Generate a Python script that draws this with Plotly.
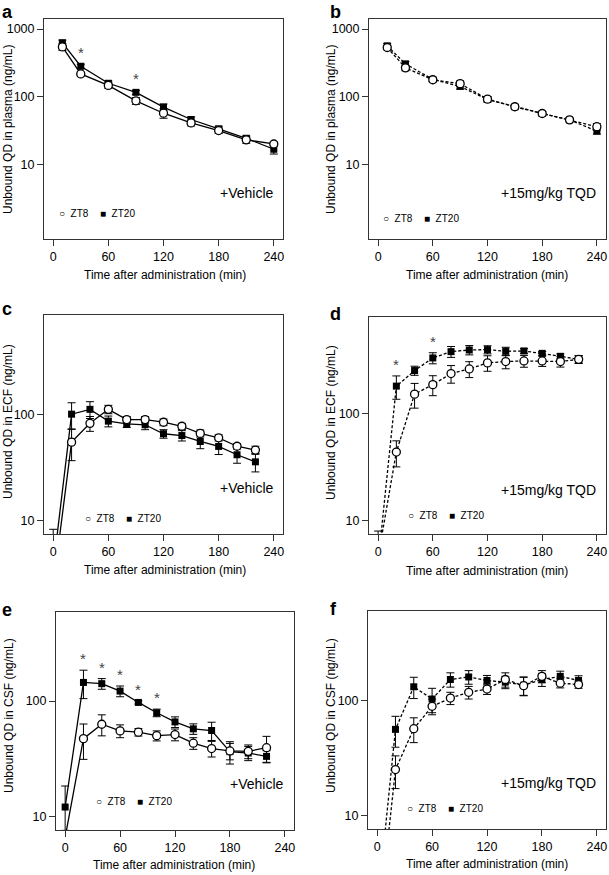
import math
import plotly.graph_objects as go

W, H = 609, 875

# ---------------- data ----------------
times_ab = [10, 30, 60, 90, 120, 150, 180, 210, 240]
times_cf = [0, 20, 40, 60, 80, 100, 120, 140, 160, 180, 200, 220]

a_zt8 = [545, 217, 147, 87, 57, 41, 31.6, 23, 20]
a_zt8_err = [60, 15, 14, 10, 9, 4, 3, 2.5, 1.5]
a_zt20 = [627, 282, 158, 116, 70, 46, 33.5, 24.3, 16.7]
a_zt20_err = [60, 20, 12, 8, 8, 4, 3, 2, 2.5]

b_zt8 = [534, 267, 178, 156, 92, 71, 56.5, 45.5, 36]
b_zt8_err = [40, 25, 12, 15, 8, 5, 4, 3, 4]
b_zt20 = [565, 306, 180, 142, 91, 71, 56.5, 45.5, 31]
b_zt20_err = [45, 25, 12, 12, 8, 5, 4, 3, 3]

c_zt8 = [2.4, 54.6, 82, 111, 89, 89, 84, 77, 66, 60, 50, 46]
c_zt8_err = [1, 18, 13, 10, 6, 6, 6, 5, 5, 4, 3, 4]
c_zt20 = [3.6, 100, 111, 86, 81, 79.5, 65.5, 63, 55.4, 49.8, 41.6, 35.7]
c_zt20_err = [4.7, 28, 20, 10, 6, 8, 6, 7, 8, 8, 7, 7]

d_zt8 = [4.5, 43.7, 153, 188, 239, 264, 301, 310, 314, 314, 310, 325]
d_zt8_err = [1, 12, 40, 40, 45, 45, 50, 45, 40, 35, 35, 25]
d_zt20 = [4, 182, 255, 335, 384, 398, 401, 387, 390, 370, 347, 325]
d_zt20_err = [3.9, 45, 25, 40, 45, 40, 35, 35, 20, 15, 18, 28]

e_zt8 = [6.6, 47.3, 63, 55.2, 53.8, 50.2, 51.3, 43.2, 38.8, 37, 36.7, 39.5]
e_zt8_err = [1, 16, 13, 7, 4, 5, 6, 5, 6, 6, 5, 10]
e_zt20 = [12.1, 145, 141.5, 122, 97.3, 79.2, 66, 57.5, 55.6, 36.5, 35.5, 33.2]
e_zt20_err = [6.3, 40, 15, 13, 3, 6, 7, 6, 10, 8, 5, 4]

f_zt8 = [0.83, 25.2, 57.3, 89.8, 106, 119, 127, 154, 136, 164, 143, 139]
f_zt8_err = [0.1, 8, 14, 14, 13, 15, 13, 22, 25, 20, 13, 10]
f_zt20 = [1.5, 56.5, 133, 104, 154, 162, 151, 146, 137, 154, 164, 151]
f_zt20_err = [0.2, 17, 28, 25, 22, 22, 16, 18, 25, 20, 18, 15]

sig_a = [30, 90]
sig_d = [20, 60]
sig_e = [20, 40, 60, 80, 100]

x_ticks = [0, 60, 120, 180, 240]
y_ticks = [10, 100, 1000]
y_ticktext = ["10", "100", "1000"]

# ---------------- layout geometry (pixels) ----------------
FONT = "Liberation Sans, Arial, sans-serif"
COND_FONT = "Liberation Sans, Arial, sans-serif"

panels = [
    dict(letter="a", t=times_ab, z8=a_zt8, z8e=a_zt8_err, z20=a_zt20, z20e=a_zt20_err,
         dash="solid", box=(44, 283, 19, 239), yr=(-0.104, 3.149), sig=sig_a,
         ytitle="Unbound QD in plasma (ng/mL)", cond="+Vehicle",
         letpos=(0, 0), ytpos=(8, 130), xtpos=(165, 275), condpos=(247, 193), legpos=(57, 213)),
    dict(letter="b", t=times_ab, z8=b_zt8, z8e=b_zt8_err, z20=b_zt20, z20e=b_zt20_err,
         dash="3px,2px", box=(369, 606, 19, 239), yr=(-0.104, 3.149), sig=[],
         ytitle="Unbound QD in plasma (ng/mL)", cond="+15mg/kg TQD",
         letpos=(328, 0), ytpos=(331, 130), xtpos=(487, 275), condpos=(548, 193), legpos=(381, 219)),
    dict(letter="c", t=times_cf, z8=c_zt8, z8e=c_zt8_err, z20=c_zt20, z20e=c_zt20_err,
         dash="solid", box=(44, 283, 315, 534), yr=(0.875, 2.931), sig=[],
         ytitle="Unbound QD in ECF (ng/mL)", cond="+Vehicle",
         letpos=(0, 297), ytpos=(8, 422), xtpos=(165, 570), condpos=(247, 488), legpos=(83, 518)),
    dict(letter="d", t=times_cf, z8=d_zt8, z8e=d_zt8_err, z20=d_zt20, z20e=d_zt20_err,
         dash="3px,2px", box=(369, 606, 317, 534), yr=(0.87, 2.91), sig=sig_d,
         ytitle="Unbound QD in ECF (ng/mL)", cond="+15mg/kg TQD",
         letpos=(328, 302), ytpos=(331, 423), xtpos=(487, 571), condpos=(548, 490), legpos=(406, 515)),
    dict(letter="e", t=times_cf, z8=e_zt8, z8e=e_zt8_err, z20=e_zt20, z20e=e_zt20_err,
         dash="solid", box=(56, 294, 612, 830), yr=(0.884, 2.771), sig=sig_e,
         ytitle="Unbound QD in CSF (ng/mL)", cond="+Vehicle",
         letpos=(0, 598), ytpos=(9, 716), xtpos=(174, 865), condpos=(257, 784), legpos=(94, 801)),
    dict(letter="f", t=times_cf, z8=f_zt8, z8e=f_zt8_err, z20=f_zt20, z20e=f_zt20_err,
         dash="3px,2px", box=(368, 606, 611, 829), yr=(0.883, 2.785), sig=[],
         ytitle="Unbound QD in CSF (ng/mL)", cond="+15mg/kg TQD",
         letpos=(328, 597), ytpos=(331, 716), xtpos=(487, 864), condpos=(548, 783), legpos=(405, 808)),
]


def px(x):
    return x / W


def py(y):
    return 1 - y / H


fig = go.Figure()
annotations = []
layout = {}

for i, p in enumerate(panels, start=1):
    xa = "x" if i == 1 else f"x{i}"
    ya = "y" if i == 1 else f"y{i}"
    xkey = "xaxis" if i == 1 else f"xaxis{i}"
    ykey = "yaxis" if i == 1 else f"yaxis{i}"
    l, r, t, b = p["box"]

    fig.add_trace(go.Scatter(
        x=p["t"], y=p["z20"], xaxis=xa, yaxis=ya, mode="lines+markers",
        line=dict(color="black", width=1.3, dash=p["dash"]),
        marker=dict(symbol="square", size=7, color="black", line=dict(width=0)),
        error_y=dict(type="data", array=p["z20e"], color="black", thickness=1, width=4),
        showlegend=False, cliponaxis=True))
    fig.add_trace(go.Scatter(
        x=p["t"], y=p["z8"], xaxis=xa, yaxis=ya, mode="lines+markers",
        line=dict(color="black", width=1.3, dash=p["dash"]),
        marker=dict(symbol="circle", size=8, color="white", line=dict(color="black", width=1.3)),
        error_y=dict(type="data", array=p["z8e"], color="black", thickness=1, width=4),
        showlegend=False, cliponaxis=True))

    layout[xkey] = dict(domain=[px(l), px(r)], anchor=ya, range=[-10, 250],
                        tickvals=x_ticks, ticks="outside", ticklen=6, tickwidth=1,
                        tickcolor="#333", showline=True, mirror=True, linecolor="#333",
                        linewidth=1, showgrid=False, zeroline=False,
                        tickfont=dict(family=FONT, size=12.5, color="black"))
    layout[ykey] = dict(domain=[py(b), py(t)], anchor=xa, type="log", range=list(p["yr"]),
                        tickvals=y_ticks, ticktext=y_ticktext, ticks="outside", ticklen=6,
                        tickwidth=1, tickcolor="#333", showline=True, mirror=True,
                        linecolor="#333", linewidth=1, showgrid=False, zeroline=False,
                        tickfont=dict(family=FONT, size=12.5, color="black"))

    annotations.append(dict(text=f"<b>{p['letter']}</b>", x=px(p["letpos"][0]), y=py(p["letpos"][1]),
                            xref="paper", yref="paper", xanchor="left", yanchor="top",
                            showarrow=False, font=dict(family=FONT, size=18, color="black")))
    annotations.append(dict(text=p["ytitle"], x=px(p["ytpos"][0]), y=py(p["ytpos"][1]),
                            xref="paper", yref="paper", xanchor="center", yanchor="middle",
                            textangle=-90, showarrow=False,
                            font=dict(family=FONT, size=12, color="black")))
    annotations.append(dict(text="Time after administration (min)", x=px(p["xtpos"][0]),
                            y=py(p["xtpos"][1]), xref="paper", yref="paper",
                            xanchor="center", yanchor="middle", showarrow=False,
                            font=dict(family=FONT, size=12, color="black")))
    annotations.append(dict(text=p["cond"], x=px(p["condpos"][0]), y=py(p["condpos"][1]),
                            xref="paper", yref="paper", xanchor="center", yanchor="middle",
                            showarrow=False, font=dict(family=COND_FONT, size=14, color="black")))
    lx, ly = p["legpos"]
    annotations.append(dict(text="○&nbsp;&nbsp;ZT8", x=px(lx), y=py(ly),
                            xref="paper", yref="paper", xanchor="left", yanchor="middle",
                            showarrow=False, font=dict(family=FONT, size=10, color="black")))
    annotations.append(dict(text="■&nbsp;&nbsp;ZT20", x=px(lx + 41), y=py(ly),
                            xref="paper", yref="paper", xanchor="left", yanchor="middle",
                            showarrow=False, font=dict(family=FONT, size=10, color="black")))
    for s in p["sig"]:
        k = p["t"].index(s)
        top = p["z20"][k] + p["z20e"][k]
        annotations.append(dict(text="*", x=s, y=math.log10(top), xref=xa, yref=ya,
                                xanchor="center", yanchor="bottom", yshift=1, showarrow=False,
                                font=dict(family=FONT, size=15, color="#444")))

fig.update_layout(
    width=W, height=H, margin=dict(l=0, r=0, t=0, b=0),
    paper_bgcolor="white", plot_bgcolor="white",
    annotations=annotations, **layout)

fig.write_html("out.html", config={"displayModeBar": False},
               post_script="document.body.style.margin='0px';document.body.style.overflow='hidden';")
